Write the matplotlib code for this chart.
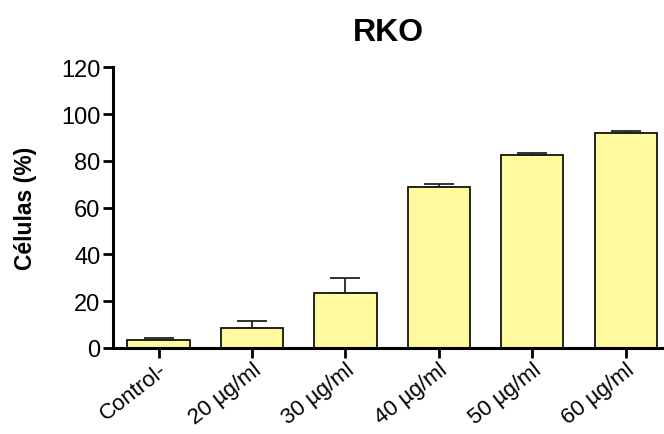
import matplotlib
matplotlib.use("Agg")
import matplotlib.pyplot as plt
import numpy as np

categories = ["Control-", "20 µg/ml", "30 µg/ml", "40 µg/ml", "50 µg/ml", "60 µg/ml"]
values = [3.3, 8.7, 23.6, 69.0, 82.6, 92.0]
errors = [0.9, 2.7, 6.3, 0.9, 0.7, 0.8]
yticks = [0, 20, 40, 60, 80, 100, 120]

plt.rcParams['font.family'] = ['Liberation Sans', 'DejaVu Sans']

fig = plt.figure(figsize=(6.64, 4.35), dpi=100)
ax = fig.add_axes([0.170, 0.198, 0.830, 0.645])

x = np.arange(len(categories))
ax.bar(x, values, width=0.667, color='#FFFA9E', edgecolor='black', linewidth=1.2, zorder=2)
ax.errorbar(x, values, yerr=[np.zeros(len(errors)), errors], fmt='none',
            ecolor='#222222', elinewidth=1.3, capsize=11, capthick=1.3, zorder=3)

ax.set_xlim(-0.49, 5.41)
ax.set_ylim(0, 120)
ax.set_yticks(yticks)
ax.set_yticklabels([str(v) for v in yticks], fontsize=17)
ax.set_xticks(x)
ax.set_xticklabels(categories, fontsize=16, rotation=38, ha='right', va='top',
                   rotation_mode='anchor')

for s in ['top', 'right']:
    ax.spines[s].set_visible(False)
for s in ['left', 'bottom']:
    ax.spines[s].set_linewidth(2.2)

ax.tick_params(axis='both', direction='out', length=7, width=2, color='black', pad=2)
ax.tick_params(axis='x', pad=1)

ax.set_ylabel("Células (%)", fontsize=16.5, fontweight='bold', labelpad=17)
ax.set_title("RKO", fontsize=23, fontweight='bold', pad=20)

fig.savefig("out.png", dpi=100)
